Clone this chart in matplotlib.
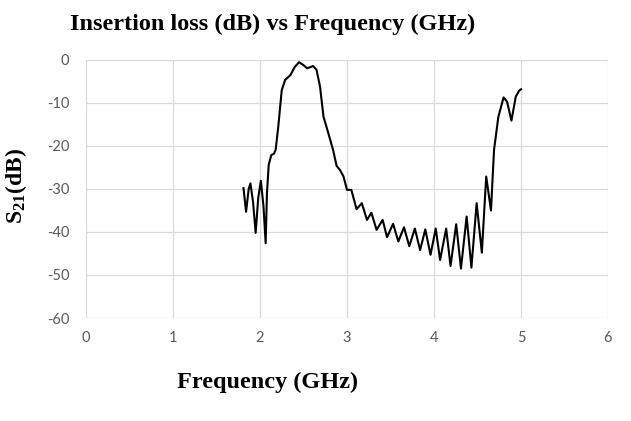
import matplotlib
matplotlib.use('Agg')
import matplotlib.pyplot as plt

# Puntos (frecuencia en GHz, S21 en dB)
frecuencia = [1.81, 1.84, 1.87, 1.89, 1.92, 1.95, 1.98, 2.01, 2.04, 2.065, 2.08, 2.10, 2.13, 2.16,
              2.18, 2.21, 2.25, 2.29, 2.35, 2.40, 2.45, 2.50, 2.54, 2.575, 2.61, 2.65, 2.69, 2.73,
              2.785, 2.84, 2.88, 2.92, 2.96, 3.00, 3.05, 3.11, 3.17, 3.23, 3.28, 3.34, 3.41, 3.46,
              3.53, 3.59, 3.655, 3.716, 3.78, 3.84, 3.90, 3.96, 4.02, 4.07, 4.14, 4.19, 4.255, 4.31,
              4.375, 4.43, 4.49, 4.55, 4.60, 4.655, 4.69, 4.74, 4.80, 4.84, 4.89, 4.94, 4.98, 5.00]
s21 = [-29.8, -35.3, -30.0, -28.7, -33.0, -40.2, -32.0, -28.1, -34.0, -42.6, -31.0, -24.4, -22.1, -21.8,
       -20.9, -15.5, -7.0, -4.6, -3.5, -1.6, -0.5, -1.2, -1.9, -1.7, -1.4, -2.3, -6.2, -13.2,
       -17.0, -20.9, -24.6, -25.6, -27.1, -30.2, -30.2, -34.7, -33.3, -37.2, -35.5, -39.5, -37.2, -41.2,
       -38.1, -42.2, -38.9, -43.3, -39.2, -44.2, -39.4, -45.3, -39.2, -46.5, -39.2, -47.9, -38.2, -48.5,
       -36.4, -48.3, -33.3, -44.8, -27.1, -35.0, -20.9, -13.2, -8.7, -9.7, -14.1, -8.5, -7.1, -6.8]

xticks = [0, 1, 2, 3, 4, 5, 6]
yticks = [0, -10, -20, -30, -40, -50, -60]

plt.rcParams['axes.unicode_minus'] = False
plt.rcParams['mathtext.fontset'] = 'custom'
plt.rcParams['mathtext.rm'] = 'Liberation Serif:bold'
plt.rcParams['mathtext.bf'] = 'Liberation Serif:bold'
plt.rcParams['mathtext.it'] = 'Liberation Serif:bold'

fig = plt.figure(figsize=(6.31, 4.21), dpi=100)
ax = fig.add_axes([86 / 631, 1 - 318 / 421, 522 / 631, 258 / 421])

ax.plot(frecuencia, s21, color='black', lw=1.5)

ax.set_xlim(0, 6)
ax.set_ylim(-60, 0)
ax.set_xticks(xticks)
ax.set_yticks(yticks)
ax.grid(True, color='#d9d9d9', lw=0.9)
ax.set_axisbelow(True)
for s in ax.spines.values():
    s.set_visible(False)
ax.tick_params(length=0, labelsize=10.5, labelcolor='#595959')
ax.tick_params(axis='x', pad=9)
ax.tick_params(axis='y', pad=12)
for lab in ax.get_xticklabels() + ax.get_yticklabels():
    lab.set_fontfamily('Lato')

# Titulo y etiquetas en letra con serifa, en negrita
fig.text(70 / 631, 1 - 24 / 421, 'Insertion loss (dB) vs Frequency (GHz)', fontsize=17.5,
         fontweight='bold', family='Liberation Serif', ha='left', va='center')
fig.text(177 / 631, 1 - 382 / 421, 'Frequency (GHz)', fontsize=17.5,
         fontweight='bold', family='Liberation Serif', ha='left', va='center')
fig.text(16 / 631, 1 - 186 / 421, r'S$_{21}$(dB)', fontsize=17,
         fontweight='bold', family='Liberation Serif', rotation=90, ha='center', va='center')

fig.savefig('out.png', dpi=100)
